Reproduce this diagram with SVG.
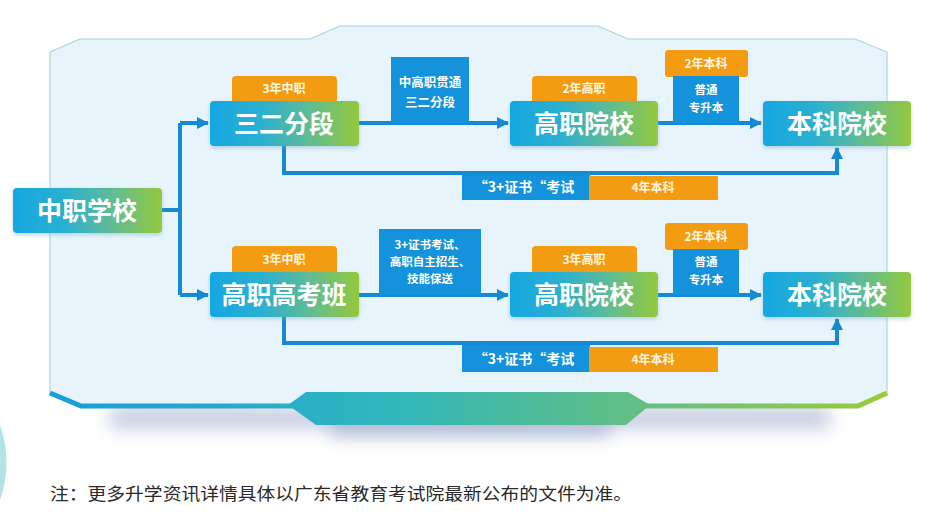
<svg xmlns="http://www.w3.org/2000/svg" width="930" height="517" viewBox="0 0 930 517">
<style>
.cn{font-family:"Noto Sans CJK SC","Noto Sans",sans-serif}
.node-t{font-size:25px;font-weight:700;fill:#ffffff;text-anchor:middle}
.tag{fill:#f39c12}
.tag-t{font-size:12px;font-weight:700;fill:#fff6e0;text-anchor:middle}
.lbl{fill:#1592dc}
.lbl-t{font-size:12.5px;font-weight:700;fill:#ffffff;text-anchor:middle}
.lbl-s{font-size:11.5px}
.conn{fill:none;stroke:#1589d2;stroke-width:4;stroke-linejoin:miter}
</style>
<defs>
<linearGradient id="ng" x1="0" y1="0" x2="1" y2="0">
<stop offset="0" stop-color="#16a7e2"/>
<stop offset="0.35" stop-color="#2bb0d0"/>
<stop offset="0.65" stop-color="#5dbb98"/>
<stop offset="1" stop-color="#94c83c"/>
</linearGradient>
<linearGradient id="bg" gradientUnits="userSpaceOnUse" x1="50" y1="0" x2="890" y2="0">
<stop offset="0" stop-color="#1a9ddc"/>
<stop offset="0.4" stop-color="#2fb6bd"/>
<stop offset="0.75" stop-color="#6cc07a"/>
<stop offset="1" stop-color="#9ccb35"/>
</linearGradient>
<filter id="blur" x="-20%" y="-100%" width="140%" height="300%"><feGaussianBlur stdDeviation="9"/></filter>
<filter id="ds" x="-10%" y="-20%" width="120%" height="150%"><feDropShadow dx="0" dy="2" stdDeviation="2" flood-color="#6aa8c8" flood-opacity="0.45"/></filter>
<marker id="ah" markerWidth="12" markerHeight="12" refX="11" refY="6" orient="auto" markerUnits="userSpaceOnUse">
<path d="M0,0 L12,6 L0,12 Z" fill="#1589d2"/>
</marker>
</defs>
<rect width="930" height="517" fill="#ffffff"/>
<!-- decorative -->
<path d="M0,425 Q13,462 0,500 Z" fill="#8ad4d8" opacity="0.65"/>
<!-- panel shadow -->
<rect x="110" y="408" width="720" height="20" fill="#8f9cc4" opacity="0.55" filter="url(#blur)"/>
<rect x="330" y="418" width="280" height="18" fill="#8f9cc4" opacity="0.6" filter="url(#blur)"/>
<!-- panel -->
<path d="M50,52 L80,39 L310,39 L340,26 L598,26 L628,39 L855,39 L887,52 L887,395 L858,406 L80,406 L50,395 Z" fill="#e8f4fc" stroke="#a6d3de" stroke-width="1.1"/>
<path d="M50,393 L81,406 L858,406 L887,393" fill="none" stroke="url(#bg)" stroke-width="5"/>
<path d="M288,405 L306,392 L628,392 L650,405 L626,425 L316,425 Z" fill="url(#bg)"/>

<g id="connectors">
<path class="conn" d="M162,210 H180"/>
<path class="conn" d="M180,123 V295"/>
<path class="conn" d="M180,123 H208" marker-end="url(#ah)"/>
<path class="conn" d="M180,295 H208" marker-end="url(#ah)"/>
<path class="conn" d="M359,123 H508" marker-end="url(#ah)"/>
<path class="conn" d="M658,123 H761" marker-end="url(#ah)"/>
<path class="conn" d="M284,146 V173 H837 V148" marker-end="url(#ah)"/>
<path class="conn" d="M359,295 H508" marker-end="url(#ah)"/>
<path class="conn" d="M658,295 H761" marker-end="url(#ah)"/>
<path class="conn" d="M284,317 V343 H837 V319" marker-end="url(#ah)"/>
</g>

<g id="label-top-mid">
<rect class="lbl" x="391" y="57" width="78" height="66"/>
<text class="cn lbl-t" x="430" y="87">中高职贯通</text>
<text class="cn lbl-t" x="430" y="107">三二分段</text>
</g>
<g id="label-bot-mid">
<rect class="lbl" x="379" y="229" width="102" height="66"/>
<text class="cn lbl-t lbl-s" x="430" y="249">3+证书考试、</text>
<text class="cn lbl-t lbl-s" x="430" y="266">高职自主招生、</text>
<text class="cn lbl-t lbl-s" x="430" y="283">技能保送</text>
</g>
<g id="label-top-right">
<rect class="tag" x="665" y="50" width="83" height="27" rx="3"/>
<text class="cn tag-t" x="706" y="68">2年本科</text>
<rect class="lbl" x="673" y="76" width="66" height="47"/>
<text class="cn lbl-t lbl-s" x="706" y="94">普通</text>
<text class="cn lbl-t lbl-s" x="706" y="112">专升本</text>
</g>
<g id="label-bot-right">
<rect class="tag" x="665" y="223" width="83" height="27" rx="3"/>
<text class="cn tag-t" x="706" y="241">2年本科</text>
<rect class="lbl" x="673" y="249" width="66" height="46"/>
<text class="cn lbl-t lbl-s" x="706" y="266">普通</text>
<text class="cn lbl-t lbl-s" x="706" y="284">专升本</text>
</g>
<g id="label-top-exam">
<rect class="lbl" x="462" y="174" width="128" height="26"/>
<text class="cn lbl-t" x="524" y="192" style="font-size:14px">“3+证书“考试</text>
<rect class="tag" x="589" y="176" width="129" height="24"/>
<text class="cn tag-t" x="653" y="192">4年本科</text>
</g>
<g id="label-bot-exam">
<rect class="lbl" x="462" y="345" width="128" height="27"/>
<text class="cn lbl-t" x="524" y="364" style="font-size:14px">“3+证书“考试</text>
<rect class="tag" x="589" y="347" width="129" height="25"/>
<text class="cn tag-t" x="653" y="364">4年本科</text>
</g>

<g id="node-zhongzhi">
<rect x="13" y="188" width="149" height="45" rx="4" fill="url(#ng)" filter="url(#ds)"/>
<text class="cn node-t" x="87" y="220">中职学校</text>
</g>
<g id="node-sanerfenduan">
<rect class="tag" x="232" y="76" width="105" height="28" rx="4"/>
<text class="cn tag-t" x="284" y="93">3年中职</text>
<rect x="210" y="101" width="149" height="45" rx="4" fill="url(#ng)" filter="url(#ds)"/>
<text class="cn node-t" x="284" y="133">三二分段</text>
</g>
<g id="node-gaozhi-top">
<rect class="tag" x="532" y="76" width="105" height="28" rx="4"/>
<text class="cn tag-t" x="584" y="93">2年高职</text>
<rect x="510" y="101" width="148" height="45" rx="4" fill="url(#ng)" filter="url(#ds)"/>
<text class="cn node-t" x="584" y="133">高职院校</text>
</g>
<g id="node-benke-top">
<rect x="763" y="101" width="148" height="45" rx="4" fill="url(#ng)" filter="url(#ds)"/>
<text class="cn node-t" x="837" y="133">本科院校</text>
</g>
<g id="node-gaokaoban">
<rect class="tag" x="232" y="246" width="105" height="29" rx="4"/>
<text class="cn tag-t" x="284" y="264">3年中职</text>
<rect x="210" y="272" width="149" height="45" rx="4" fill="url(#ng)" filter="url(#ds)"/>
<text class="cn node-t" x="284" y="304">高职高考班</text>
</g>
<g id="node-gaozhi-bot">
<rect class="tag" x="532" y="246" width="105" height="29" rx="4"/>
<text class="cn tag-t" x="584" y="264">3年高职</text>
<rect x="510" y="272" width="148" height="45" rx="4" fill="url(#ng)" filter="url(#ds)"/>
<text class="cn node-t" x="584" y="304">高职院校</text>
</g>
<g id="node-benke-bot">
<rect x="763" y="272" width="148" height="45" rx="4" fill="url(#ng)" filter="url(#ds)"/>
<text class="cn node-t" x="837" y="304">本科院校</text>
</g>

<text class="cn" x="50" y="500" font-size="17" fill="#2a2a2a" textLength="582" lengthAdjust="spacingAndGlyphs">注：更多升学资讯详情具体以广东省教育考试院最新公布的文件为准。</text>
</svg>
